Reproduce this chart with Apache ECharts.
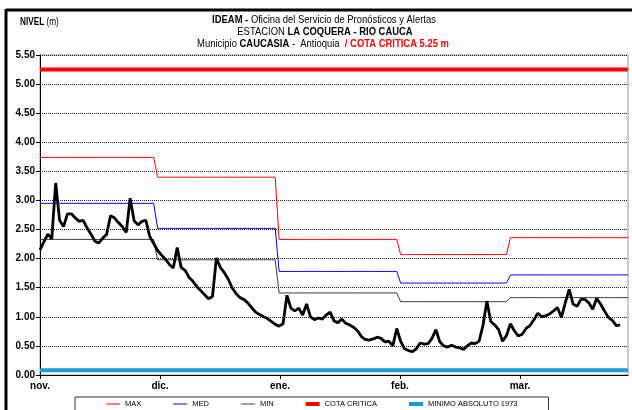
<!DOCTYPE html>
<html>
<head>
<meta charset="utf-8">
<script src="https://cdn.jsdelivr.net/npm/echarts@6/dist/echarts.min.js"></script>
<style>
  html, body { margin: 0; padding: 0; background: #ffffff; }
  #chart { width: 632px; height: 410px; }
</style>
</head>
<body>
<div id="chart"></div>
<script>
// Nivel diario (m), día 0 = 1 de noviembre
const nivelDiario = [
  2.15, 2.29, 2.42, 2.34, 3.30, 2.66, 2.55, 2.77, 2.77, 2.70,
  2.64, 2.66, 2.53, 2.42, 2.30, 2.27, 2.35, 2.42, 2.74, 2.70,
  2.62, 2.55, 2.45, 3.04, 2.65, 2.58, 2.64, 2.66, 2.38, 2.26,
  2.14, 2.06, 1.99, 1.90, 1.84, 2.19, 1.85, 1.80, 1.68, 1.61,
  1.52, 1.45, 1.38, 1.31, 1.35, 2.01, 1.85, 1.76, 1.65, 1.50,
  1.40, 1.33, 1.30, 1.24, 1.16, 1.08, 1.04, 1.00, 0.97, 0.92,
  0.87, 0.84, 0.88, 1.37, 1.15, 1.10, 1.15, 1.03, 1.22, 1.00,
  0.95, 0.98, 0.96, 1.03, 1.08, 0.93, 0.90, 0.96, 0.89, 0.86,
  0.82, 0.76, 0.66, 0.61, 0.60, 0.62, 0.65, 0.63, 0.57, 0.58,
  0.50, 0.80, 0.58, 0.45, 0.42, 0.40, 0.45, 0.55, 0.53, 0.54,
  0.63, 0.78, 0.57, 0.50, 0.48, 0.51, 0.48, 0.47, 0.44, 0.50,
  0.55, 0.54, 0.58, 0.85, 1.27, 0.92, 0.86, 0.78, 0.58, 0.68,
  0.88, 0.76, 0.67, 0.70, 0.80, 0.85, 0.95, 1.06, 1.00, 1.02,
  1.05, 1.10, 1.16, 0.99, 1.24, 1.47, 1.22, 1.18, 1.30, 1.30,
  1.24, 1.13, 1.32, 1.22, 1.10, 0.99, 0.94, 0.85, 0.86
];

// Meses del periodo y su número de días
const meses = ['nov.', 'dic.', 'ene.', 'feb.', 'mar.'];
const diasPorMes = [30, 31, 31, 28, 31];

// Estadísticas históricas mensuales (m)
const maxMensual = [3.74, 3.40, 2.33, 2.07, 2.36];
const medMensual = [2.95, 2.52, 1.78, 1.58, 1.72];
const minMensual = [2.33, 1.98, 1.41, 1.26, 1.33];

// Referencias fijas (m)
const cotaCritica = 5.25;
const minimoAbsoluto1973 = 0.08;

// Etiquetas del eje vertical
const nivelesEje = [0, 0.5, 1, 1.5, 2, 2.5, 3, 3.5, 4, 4.5, 5, 5.5];

const totalDias = diasPorMes.reduce((a, b) => a + b, 0);
const pasoMes = (totalDias - 1) / 4.9;

// Expande un valor mensual a cada día de su mes
function porDia(mensual) {
  const out = [];
  let d = 0;
  diasPorMes.forEach((n, m) => {
    for (let i = 0; i < n; i++) { out.push([d, mensual[m]]); d++; }
  });
  return out;
}
function constante(v) {
  return [[0, v], [totalDias - 1, v]];
}

const fuente = "'Liberation Sans', Arial, sans-serif";
const angosto = 0.82;   // ancho de letra condensada

const chart = echarts.init(document.getElementById('chart'), null, { renderer: 'canvas' });

const linea = (name, data, color, width, z) => ({
  name, type: 'line', data, symbol: 'none', showSymbol: false,
  lineStyle: { color, width }, itemStyle: { color },
  emphasis: { disabled: true }, silent: true, animation: false, z
});

const iconoFino = 'path://M0,0H14V1H0Z';
const iconoGrueso = 'path://M0,0H14V4H0Z';

// Texto de encabezado condensado horizontalmente
const encabezado = (x, y, text, rich, size, align) => ({
  type: 'text', x, y, scaleX: angosto, silent: true,
  style: {
    text, align: align || 'center', verticalAlign: 'middle',
    fontSize: size, fontFamily: fuente, fill: '#000', rich
  }
});

chart.setOption({
  backgroundColor: '#ffffff',
  animation: false,
  grid: {
    left: 40, top: 55, right: 4, bottom: 35,
    show: true, borderColor: '#9a9a9a', borderWidth: 1, backgroundColor: '#ffffff'
  },
  xAxis: {
    type: 'value',
    min: 0, max: totalDias - 1,
    interval: pasoMes,
    splitLine: { show: false },
    axisLine: { show: true, onZero: false, lineStyle: { color: '#000', width: 1 } },
    axisTick: { show: true, length: 4, lineStyle: { color: '#000' } },
    axisLabel: {
      showMaxLabel: false,
      margin: 6,
      color: '#000', fontWeight: 'bold', fontSize: 10, fontFamily: fuente,
      formatter: v => meses[Math.round(v / pasoMes)] || ''
    }
  },
  yAxis: {
    type: 'value',
    min: nivelesEje[0], max: nivelesEje[nivelesEje.length - 1], interval: 0.5,
    axisLine: { show: true, lineStyle: { color: '#000', width: 1 } },
    axisTick: { show: true, length: 4, lineStyle: { color: '#000' } },
    splitLine: { show: true, lineStyle: { color: '#222', width: 1, type: [1, 1] } },
    axisLabel: {
      margin: 5, color: '#000', fontWeight: 'bold', fontSize: 10, fontFamily: fuente,
      formatter: v => v.toFixed(2)
    }
  },
  legend: {
    data: [
      { name: 'MAX', icon: iconoFino },
      { name: 'MED', icon: iconoFino },
      { name: 'MIN', icon: iconoFino },
      { name: 'COTA CRITICA', icon: iconoGrueso },
      { name: 'MINIMO ABSOLUTO 1973', icon: iconoGrueso }
    ],
    left: 75, top: 397,
    itemGap: 32, itemWidth: 14, itemHeight: 8,
    symbolKeepAspect: true,
    padding: [3, 31, 10, 31],
    borderColor: '#333', borderWidth: 1,
    selectedMode: false,
    textStyle: { fontSize: 7.5, fontFamily: fuente, color: '#000' }
  },
  graphic: [
    { type: 'line', shape: { x1: 6, y1: 10, x2: 632, y2: 10 }, style: { stroke: '#000', lineWidth: 3 }, silent: true },
    { type: 'line', shape: { x1: 6, y1: 9, x2: 6, y2: 410 }, style: { stroke: '#000', lineWidth: 3 }, silent: true },
    encabezado(20, 22, '{b|NIVEL} (m)',
      { b: { fontWeight: 'bold', fontSize: 10, fontFamily: fuente, fill: '#000' } }, 10, 'left'),
    encabezado(324, 20, '{b|IDEAM -} Oficina del Servicio de Pronósticos y Alertas',
      { b: { fontWeight: 'bold', fontSize: 11.5, fontFamily: fuente, fill: '#000' } }, 11.5),
    encabezado(325, 32, 'ESTACION {b|LA COQUERA - RIO CAUCA}',
      { b: { fontWeight: 'bold', fontSize: 11.5, fontFamily: fuente, fill: '#000' } }, 11.5),
    encabezado(323, 44, 'Municipio {b|CAUCASIA} -  Antioquia  {r|/ COTA CRITICA 5.25 m}', {
      b: { fontWeight: 'bold', fontSize: 11.5, fontFamily: fuente, fill: '#000' },
      r: { fontWeight: 'bold', fontSize: 11.5, fontFamily: fuente, fill: '#ff0000' }
    }, 11.5)
  ],
  series: [
    linea('MAX', porDia(maxMensual), '#ff0000', 1, 2),
    linea('MED', porDia(medMensual), '#0000ff', 1, 2),
    linea('MIN', porDia(minMensual), '#3a3a3a', 1, 2),
    linea('COTA CRITICA', constante(cotaCritica), '#ff0000', 4, 3),
    linea('MINIMO ABSOLUTO 1973', constante(minimoAbsoluto1973), '#1a9ad6', 4, 3),
    linea('NIVEL', nivelDiario.map((v, i) => [i, v]), '#000000', 2.8, 5)
  ]
});
</script>
</body>
</html>
